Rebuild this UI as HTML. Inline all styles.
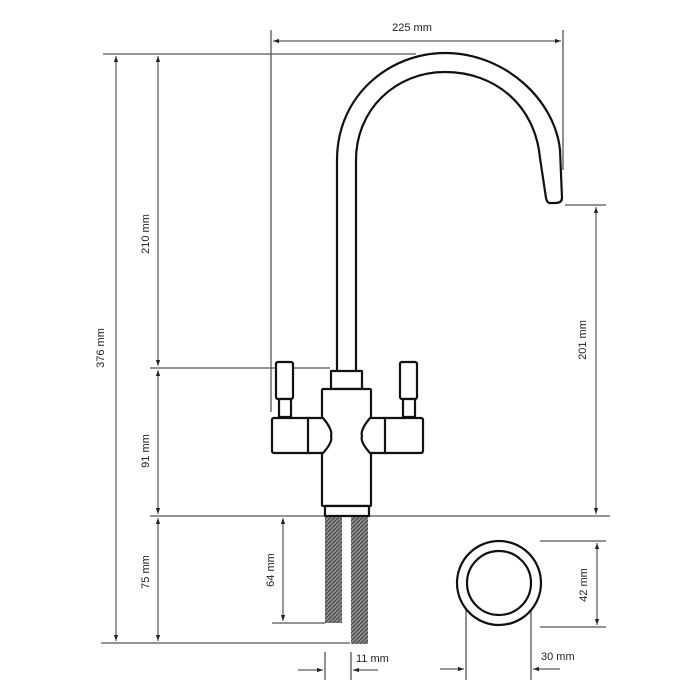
<!DOCTYPE html>
<html><head><meta charset="utf-8"><style>html,body{margin:0;padding:0;background:#fff}svg{display:block}</style></head>
<body>
<svg width="700" height="700" viewBox="0 0 700 700" xmlns="http://www.w3.org/2000/svg" font-family="Liberation Sans, sans-serif" font-size="11" fill="#222">
<defs>
<marker id="a" viewBox="0 0 10 10" refX="10" refY="5" markerWidth="7" markerHeight="6" orient="auto-start-reverse" markerUnits="userSpaceOnUse"><path d="M0,1.5 L10,5 L0,8.5z" fill="#222"/></marker>
<pattern id="h" width="4" height="4" patternUnits="userSpaceOnUse"><rect width="4" height="4" fill="#888"/><path d="M0,4 L4,0" stroke="#444" stroke-width="1"/></pattern>
</defs>
<g stroke="#555" stroke-width="1.3" fill="none">
<line x1="103" y1="54" x2="416" y2="54"/>
<line x1="150" y1="368" x2="330" y2="368"/>
<line x1="150" y1="516" x2="610" y2="516"/>
<line x1="101" y1="643" x2="350" y2="643"/>
<line x1="272" y1="623" x2="325" y2="623"/>
<line x1="565" y1="205" x2="606" y2="205"/>
<line x1="540" y1="541" x2="606" y2="541"/>
<line x1="540" y1="627" x2="606" y2="627"/>
<line x1="271" y1="30" x2="271" y2="412"/>
<line x1="563" y1="30" x2="563" y2="170"/>
<line x1="325" y1="652" x2="325" y2="680"/>
<line x1="351" y1="652" x2="351" y2="680"/>
<line x1="466" y1="600" x2="466" y2="680"/>
<line x1="531" y1="600" x2="531" y2="680"/>
</g>
<g stroke="#333" stroke-width="1" fill="none">
<line x1="116" y1="56" x2="116" y2="641" marker-start="url(#a)" marker-end="url(#a)"/>
<line x1="158" y1="56" x2="158" y2="366" marker-start="url(#a)" marker-end="url(#a)"/>
<line x1="158" y1="370" x2="158" y2="514" marker-start="url(#a)" marker-end="url(#a)"/>
<line x1="158" y1="518" x2="158" y2="641" marker-start="url(#a)" marker-end="url(#a)"/>
<line x1="283" y1="518" x2="283" y2="621" marker-start="url(#a)" marker-end="url(#a)"/>
<line x1="596" y1="207" x2="596" y2="514" marker-start="url(#a)" marker-end="url(#a)"/>
<line x1="597" y1="543" x2="597" y2="625" marker-start="url(#a)" marker-end="url(#a)"/>
<line x1="273" y1="41" x2="561" y2="41" marker-start="url(#a)" marker-end="url(#a)"/>
<line x1="298" y1="670" x2="323" y2="670" marker-end="url(#a)"/>
<line x1="378" y1="670" x2="353" y2="670" marker-end="url(#a)"/>
<line x1="440" y1="669" x2="464" y2="669" marker-end="url(#a)"/>
<line x1="560" y1="669" x2="533" y2="669" marker-end="url(#a)"/>
</g>
<g stroke="#111" stroke-width="2.2" fill="#fff" stroke-linejoin="round">
<path d="M337,372 L337,160 C337,95 390,53 445,53 C505,53 555,100 560,150 L562,198 Q562,203 555,203 L550,203 Q547,203 546,198 L540,158 C535,105 495,72 445,72 C395,72 356,110 356,160 L356,372"/>
<rect x="331" y="371" width="31" height="18"/>
<rect x="276" y="362" width="17" height="37" rx="2"/>
<rect x="279" y="399" width="12" height="18"/>
<rect x="400" y="362" width="17" height="37" rx="2"/>
<rect x="403" y="399" width="12" height="18"/>
<rect x="272" y="418" width="40" height="35" rx="2"/>
<rect x="382" y="418" width="41" height="35" rx="2"/>
<rect x="322" y="389" width="49" height="117" rx="1"/>
<path d="M308,418 L323,418 Q333,430 331,436 Q333,442 323,453 L308,453z"/>
<path d="M385,418 L370,418 Q360,430 362,436 Q360,442 370,453 L385,453z"/>
<rect x="325" y="506" width="44" height="10"/>
<circle cx="499" cy="583" r="42"/>
<circle cx="499" cy="583" r="32"/>
</g>
<rect x="325" y="517" width="17" height="106" fill="url(#h)"/>
<rect x="351" y="517" width="17" height="127" fill="url(#h)"/>
<text x="412" y="31" text-anchor="middle">225 mm</text>
<text x="356" y="662">11 mm</text>
<text x="541" y="660">30 mm</text>
<text transform="translate(104,348) rotate(-90)" text-anchor="middle">376 mm</text>
<text transform="translate(149,234) rotate(-90)" text-anchor="middle">210 mm</text>
<text transform="translate(149,451) rotate(-90)" text-anchor="middle">91 mm</text>
<text transform="translate(149,572) rotate(-90)" text-anchor="middle">75 mm</text>
<text transform="translate(274,570) rotate(-90)" text-anchor="middle">64 mm</text>
<text transform="translate(586,340) rotate(-90)" text-anchor="middle">201 mm</text>
<text transform="translate(587,585) rotate(-90)" text-anchor="middle">42 mm</text>
</svg>
</body></html>
